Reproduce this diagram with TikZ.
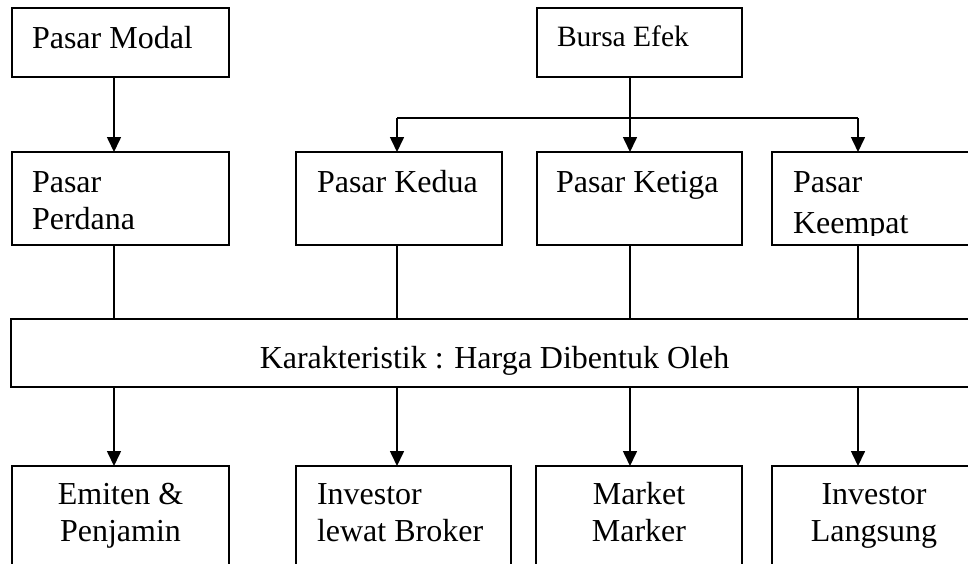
\documentclass[tikz,border=0pt]{standalone}
\usepackage{fontspec}
\setmainfont{Liberation Serif}
\usetikzlibrary{arrows.meta}
\begin{document}
\begin{tikzpicture}[x=1pt,y=-1pt,
  box/.style={draw, line width=1.8pt, inner sep=0pt, outer sep=0pt},
  lbl/.style={inner sep=0pt, outer sep=0pt, font=\fontsize{32}{37}\selectfont},
  smalllbl/.style={inner sep=0pt, outer sep=0pt, font=\fontsize{29.5}{35}\selectfont},
  ln/.style={line width=1.6pt},
  arr/.style={ln, -{Triangle[length=15pt,width=14pt]}}]
\useasboundingbox (0,0) rectangle (968,563);
\clip (0,0) rectangle (968,563);

% column positions
\coordinate (c1) at (114,0);
\coordinate (c2) at (397,0);
\coordinate (c3) at (630,0);
\coordinate (c4) at (858,0);
\coordinate (busL) at (397,118);
\coordinate (busR) at (858,118);
\coordinate (busM) at (630,118);

% boxes
\node[box, minimum width=217pt, minimum height=69pt] (pm) at (120.5,42.5) {};
\node[box, minimum width=205pt, minimum height=69pt] (be) at (639.5,42.5) {};
\node[box, minimum width=217pt, minimum height=93pt] (pp) at (120.5,198.5) {};
\node[box, minimum width=206pt, minimum height=93pt] (pk2) at (399,198.5) {};
\node[box, minimum width=205pt, minimum height=93pt] (pk3) at (639.5,198.5) {};
\node[box, minimum width=204pt, minimum height=93pt] (pk4) at (874,198.5) {};
\node[box, minimum width=967pt, minimum height=68pt] (bar) at (494.5,353) {};
\node[box, minimum width=217pt, minimum height=134pt] (e1) at (120.5,533) {};
\node[box, minimum width=215pt, minimum height=134pt] (e2) at (403.5,533) {};
\node[box, minimum width=206pt, minimum height=134pt] (e3) at (639,533) {};
\node[box, minimum width=204pt, minimum height=134pt] (e4) at (874,533) {};

% texts
\node[lbl, anchor=base west] (tpm) at (32,48) {Pasar Modal};
\node[smalllbl, anchor=base west] (tbe) at (557,46) {Bursa Efek};
\node[lbl, anchor=base west] (tpp1) at (32,192) {Pasar};
\node[lbl, anchor=base west] (tpp2) at (32,229) {Perdana};
\node[lbl, anchor=base west] (tpk2) at (317,192) {Pasar Kedua};
\node[lbl, anchor=base west] (tpk3) at (556,192) {Pasar Ketiga};
\begin{scope}
  \clip (772,150) rectangle (980,235);
  \node[lbl, anchor=base west] (tpk4a) at (793,192) {Pasar};
  \node[lbl, anchor=base west] (tpk4b) at (793,233) {Keempat};
\end{scope}
\node[lbl, anchor=base] (tbar) at (494.5,368) {Karakteristik : Harga Dibentuk Oleh};
\node[lbl, anchor=base] (te1a) at (120.5,504) {Emiten \&};
\node[lbl, anchor=base] (te1b) at (120.5,541) {Penjamin};
\node[lbl, anchor=base west] (te2a) at (317,504) {Investor};
\node[lbl, anchor=base west] (te2b) at (317,541) {lewat Broker};
\node[lbl, anchor=base] (te3a) at (639,504) {Market};
\node[lbl, anchor=base] (te3b) at (639,541) {Marker};
\node[lbl, anchor=base] (te4a) at (874,504) {Investor};
\node[lbl, anchor=base] (te4b) at (874,541) {Langsung};

% connectors
\draw[arr] (pm.south -| c1) -- (pp.north -| c1);
\draw[ln] (be.south -| c3) -- (busM);
\draw[ln] (busL) -- (busR);
\draw[arr] (busL) -- (pk2.north -| busL);
\draw[arr] (busM) -- (pk3.north -| busM);
\draw[arr] (busR) -- (pk4.north -| busR);

\draw[ln] (pp.south -| c1) -- (bar.north -| c1);
\draw[ln] (pk2.south -| c2) -- (bar.north -| c2);
\draw[ln] (pk3.south -| c3) -- (bar.north -| c3);
\draw[ln] (pk4.south -| c4) -- (bar.north -| c4);

\draw[arr] (bar.south -| c1) -- (e1.north -| c1);
\draw[arr] (bar.south -| c2) -- (e2.north -| c2);
\draw[arr] (bar.south -| c3) -- (e3.north -| c3);
\draw[arr] (bar.south -| c4) -- (e4.north -| c4);
\end{tikzpicture}
\end{document}
